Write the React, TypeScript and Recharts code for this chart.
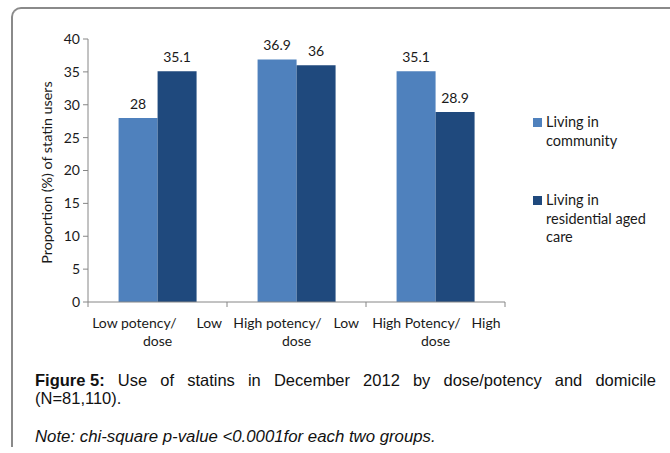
import React from "react";
import { BarChart, Bar, XAxis, YAxis, LabelList } from "recharts";

const categories = ["Low potency/ Low dose", "High potency/ Low dose", "High Potency/ High dose"];
const tickLine1Left = ["Low potency/", "High potency/", "High Potency/"];
const tickLine1Right = ["Low", "Low", "High"];
const tickLine2 = ["dose", "dose", "dose"];
const community = [28, 36.9, 35.1];
const residential = [35.1, 36, 28.9];
const yTicks = [0, 5, 10, 15, 20, 25, 30, 35, 40];
const seriesNames = ["Living in community", "Living in residential aged care"];
const legendLines = [["Living in", "community"], ["Living in", "residential aged", "care"]];
const seriesColors = ["#4F81BD", "#1F497D"];
const captionLabel = "Figure 5:";
const captionLine1 = "Use of statins in December 2012 by dose/potency and domicile";
const captionLine2 = "(N=81,110).";
const noteText = "Note: chi-square p-value <0.0001for each two groups.";

const data = categories.map((c, i) => ({
  name: c,
  community: community[i],
  residential: residential[i],
}));

const FONT = "Lato, 'Open Sans', sans-serif";
const AXIS = "#868686";
const TEXT = "#1a1a1a";
const ARIAL = "'Liberation Sans', Arial, sans-serif";

const endOff = [19, 25, 25];
const startOff = [39, 37, 36];

const XTick = (props: any) => {
  const { x, y, payload, index } = props;
  const i = payload?.index ?? index ?? 0;
  const half = payload?.offset && payload.offset > 0 ? payload.offset : 69.5;
  return (
    <g>
      <line x1={x - half} x2={x - half} y1={y} y2={y + 5} stroke={AXIS} strokeWidth={1} />
      {i === categories.length - 1 && (
        <line x1={x + half} x2={x + half} y1={y} y2={y + 5} stroke={AXIS} strokeWidth={1} />
      )}
      <text x={x + endOff[i]} y={y + 26} textAnchor="end" fontSize={14} fontFamily={FONT} fill={TEXT}>
        {tickLine1Left[i]}
      </text>
      <text x={x + startOff[i]} y={y + 26} textAnchor="start" fontSize={14} fontFamily={FONT} fill={TEXT}>
        {tickLine1Right[i]}
      </text>
      <text x={x} y={y + 44} textAnchor="middle" fontSize={14} fontFamily={FONT} fill={TEXT}>
        {tickLine2[i]}
      </text>
    </g>
  );
};

export default function App() {
  const words = captionLine1.split(" ");
  return (
    <div style={{ position: "absolute", left: 0, top: 0, width: 670, height: 453, background: "#fff", overflow: "hidden" }}>
      <div
        style={{
          position: "absolute",
          left: 11,
          top: 7,
          width: 670,
          height: 440,
          borderLeft: "2px solid #8a8a8a",
          borderTop: "2px solid #8a8a8a",
          borderTopLeftRadius: 10,
          boxSizing: "border-box",
        }}
      />
      <div style={{ position: "absolute", left: 0, top: 0 }}>
        <BarChart
          width={670}
          height={360}
          data={data}
          margin={{ top: 39, right: 165, bottom: 0, left: 0 }}
          barCategoryGap="22%"
          barGap={0}
        >
          <XAxis
            dataKey="name"
            height={58}
            tickLine={false}
            tickSize={0}
            tickMargin={0}
            axisLine={{ stroke: AXIS }}
            tick={<XTick />}
            interval={0}
          />
          <YAxis
            width={88}
            domain={[0, 40]}
            ticks={yTicks}
            tickSize={5}
            tickMargin={3}
            axisLine={{ stroke: AXIS }}
            tickLine={{ stroke: AXIS }}
            tick={{ fontSize: 14, fontFamily: FONT, fill: TEXT }}
            label={{
              value: "Proportion (%) of statin users",
              angle: -90,
              position: "center",
              dx: 3,
              dy: 2,
              style: { fontSize: 14.3, fontFamily: FONT, fill: TEXT },
            }}
          />
          <Bar dataKey="community" name={seriesNames[0]} fill={seriesColors[0]} isAnimationActive={false}>
            <LabelList dataKey="community" position="top" offset={9} style={{ fontSize: 14, fontFamily: FONT, fill: TEXT }} />
          </Bar>
          <Bar dataKey="residential" name={seriesNames[1]} fill={seriesColors[1]} isAnimationActive={false}>
            <LabelList dataKey="residential" position="top" offset={9} style={{ fontSize: 14, fontFamily: FONT, fill: TEXT }} />
          </Bar>
        </BarChart>
      </div>
      {seriesNames.map((n, i) => (
        <div
          key={n}
          style={{
            position: "absolute",
            left: 533,
            top: i === 0 ? 113 : 191,
            fontFamily: FONT,
            fontSize: 14.5,
            lineHeight: "18.5px",
            color: TEXT,
          }}
        >
          <div style={{ position: "absolute", left: 0, top: 5, width: 9, height: 9, background: seriesColors[i] }} />
          <div style={{ position: "absolute", left: 13, top: 0, whiteSpace: "nowrap" }}>
            {legendLines[i].map((l) => (
              <div key={l}>{l}</div>
            ))}
          </div>
        </div>
      ))}
      <div
        style={{
          position: "absolute",
          left: 35,
          top: 371,
          width: 621,
          fontFamily: ARIAL,
          fontSize: 16.5,
          lineHeight: "18px",
          color: "#111",
          whiteSpace: "nowrap",
        }}
      >
        <div style={{ display: "flex", justifyContent: "space-between" }}>
          <span style={{ fontWeight: "bold" }}>{captionLabel}</span>
          {words.map((w, k) => (
            <span key={k}>{w}</span>
          ))}
        </div>
        <div>{captionLine2}</div>
      </div>
      <div
        style={{
          position: "absolute",
          left: 35,
          top: 428,
          fontFamily: ARIAL,
          fontSize: 16.8,
          lineHeight: "18px",
          fontStyle: "italic",
          color: "#111",
          whiteSpace: "nowrap",
        }}
      >
        {noteText}
      </div>
    </div>
  );
}
